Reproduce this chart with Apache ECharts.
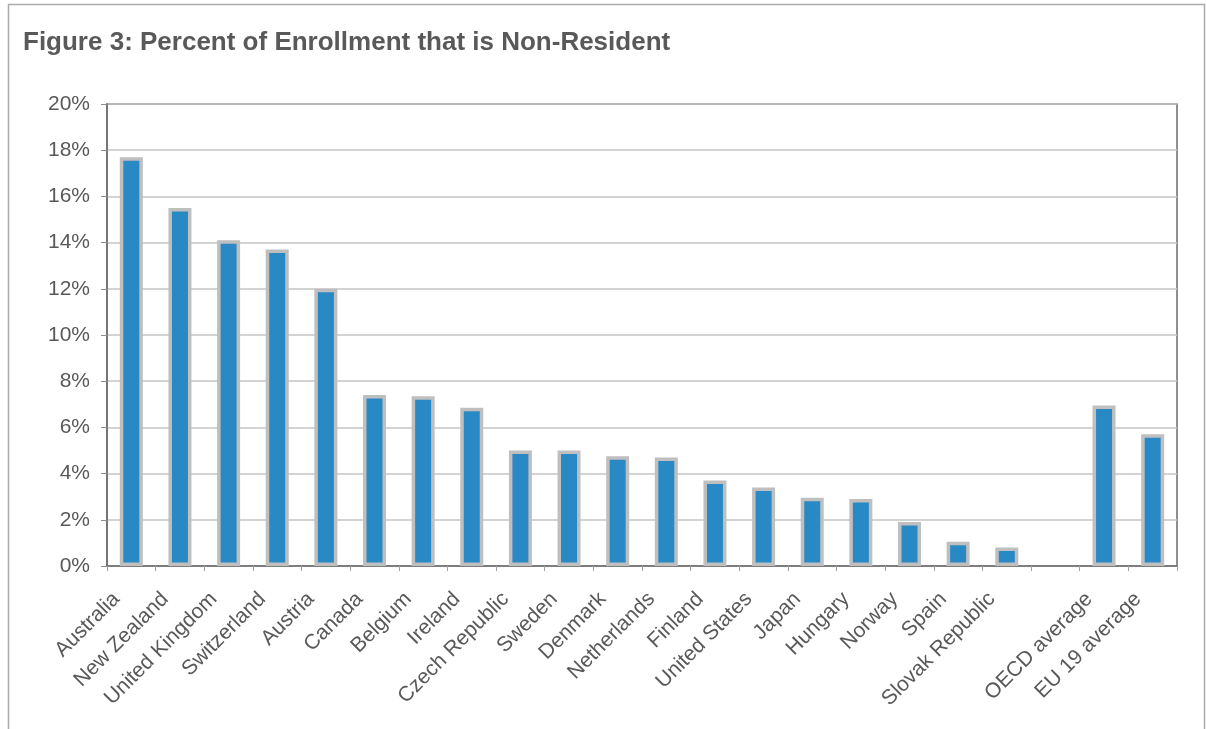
<!DOCTYPE html>
<html>
<head>
<meta charset="utf-8">
<script src="https://cdn.jsdelivr.net/npm/echarts@6/dist/echarts.min.js"></script>
<style>
html,body{margin:0;padding:0;background:#fff;}
#chart{width:1206px;height:729px;}
</style>
</head>
<body>
<div id="chart"></div>
<script>
const categories = ["Australia","New Zealand","United Kingdom","Switzerland","Austria","Canada","Belgium","Ireland","Czech Republic","Sweden","Denmark","Netherlands","Finland","United States","Japan","Hungary","Norway","Spain","Slovak Republic","","OECD average","EU 19 average"];
const values = [17.7,15.5,14.1,13.7,12.0,7.4,7.35,6.85,5.0,5.0,4.75,4.7,3.7,3.4,2.95,2.9,1.9,1.05,0.8,null,6.95,5.7];
const yTicks = {min:0,max:20,interval:2};
const titleText = "Figure 3: Percent of Enrollment that is Non-Resident";

const chart = echarts.init(document.getElementById('chart'));
chart.setOption({
  animation:false,
  backgroundColor:'#ffffff',
  graphic:[{
    type:'rect', silent:true, z:-1,
    shape:{x:8.5,y:4.5,width:1196,height:740},
    style:{fill:'none',stroke:'#ABABAB',lineWidth:1.5}
  }],
  title:{
    text:titleText, left:23, top:30, padding:0,
    textStyle:{fontFamily:'Liberation Sans',fontWeight:'bold',fontSize:26,color:'#595959'}
  },
  grid:{left:107,right:29,top:104,bottom:163,show:true,borderColor:'#6B6B6B',borderWidth:1.5,containLabel:false},
  xAxis:{
    type:'category', data:categories,
    axisLine:{show:true,lineStyle:{color:'#6B6B6B',width:1.5}},
    axisTick:{show:true,interval:0,alignWithLabel:false,length:5,lineStyle:{color:'#A0A0A0',width:1}},
    axisLabel:{interval:0,rotate:45,margin:15,padding:[0,21,0,0],fontFamily:'Liberation Sans',fontSize:21,color:'#595959'},
    splitLine:{show:false}
  },
  yAxis:{
    type:'value', min:yTicks.min, max:yTicks.max, interval:yTicks.interval,
    axisLine:{show:true,lineStyle:{color:'#6B6B6B',width:1.5}},
    axisTick:{show:true,length:6,lineStyle:{color:'#8C8C8C',width:1}},
    axisLabel:{formatter:'{value}%',margin:17,fontFamily:'Liberation Sans',fontSize:21,color:'#595959'},
    splitLine:{show:true,lineStyle:{color:'#C4C4C4',width:1.5}}
  },
  series:[{
    type:'bar', data:values, barWidth:23,
    itemStyle:{color:'#2989C4',borderColor:'#BFBFBF',borderWidth:3.5}
  }]
});
</script>
</body>
</html>
